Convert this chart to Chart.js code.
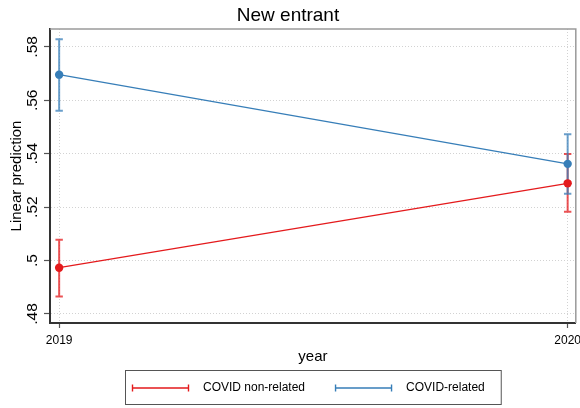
<!DOCTYPE html>
<html>
<head>
<meta charset="utf-8">
<title>New entrant</title>
<script src="https://cdn.jsdelivr.net/npm/chart.js@4.4.1/dist/chart.umd.min.js"></script>
<style>
	body { margin: 0; background: #fff; }
	canvas { display: block; }
</style>
</head>
<body>
<canvas id="margins-chart" width="580" height="408"></canvas>
<script>

var years = [2019, 2020];
var yTicks = [0.48, 0.50, 0.52, 0.54, 0.56, 0.58];

var nonRelated   = [0.4973, 0.5289];
var nonRelatedLo = [0.4865, 0.5183];
var nonRelatedHi = [0.5078, 0.5399];

var related   = [0.5696, 0.5362];
var relatedLo = [0.5561, 0.5250];
var relatedHi = [0.5829, 0.5473];

var FONT = "'Liberation Sans', Arial, sans-serif";

function points(vals){
	return years.map(function(y, i){ return {x: y, y: vals[i]}; });
}

// confidence interval caps, drawn under the lines
var errorBars = {
	id: 'errorBars',
	beforeDatasetsDraw: function(chart){
		var ctx = chart.ctx, xs = chart.scales.x, ys = chart.scales.y;
		chart.data.datasets.forEach(function(ds){
			ctx.save();
			ctx.strokeStyle = ds.barColor;
			ctx.lineWidth = 2;
			years.forEach(function(yr, i){
				var px = xs.getPixelForValue(yr);
				var top = ys.getPixelForValue(ds.hi[i]);
				var bot = ys.getPixelForValue(ds.lo[i]);
				ctx.beginPath();
				ctx.moveTo(px, top); ctx.lineTo(px, bot);
				ctx.moveTo(px - 3.7, top); ctx.lineTo(px + 3.7, top);
				ctx.moveTo(px - 3.7, bot); ctx.lineTo(px + 3.7, bot);
				ctx.stroke();
			});
			ctx.restore();
		});
	}
};

// top/right frame of the plot region and the boxed legend
var frameAndLegend = {
	id: 'frameAndLegend',
	afterDraw: function(chart){
		var ctx = chart.ctx, a = chart.chartArea;
		ctx.save();
		ctx.strokeStyle = '#9a9a9a';
		ctx.lineWidth = 1.5;
		ctx.beginPath();
		ctx.moveTo(a.left, a.top); ctx.lineTo(a.right, a.top); ctx.lineTo(a.right, a.bottom);
		ctx.stroke();

		ctx.font = '12px ' + FONT;
		var sym = 57, gap = 14, between = 30, padL = 7, padR = 16;
		var widths = chart.data.datasets.map(function(ds){ return ctx.measureText(ds.label).width; });
		var total = padL + padR + between * (widths.length - 1);
		widths.forEach(function(w){ total += sym + gap + w; });
		var left = Math.round((a.left + a.right) / 2 - total / 2);
		var top = 370, h = 34, cy = 388;

		ctx.strokeStyle = '#555';
		ctx.lineWidth = 1;
		ctx.strokeRect(left + 0.5, top + 0.5, total, h);

		var x = left + padL;
		chart.data.datasets.forEach(function(ds, i){
			ctx.strokeStyle = ds.borderColor;
			ctx.lineWidth = 1.4;
			ctx.beginPath();
			ctx.moveTo(x, cy); ctx.lineTo(x + sym, cy);
			ctx.moveTo(x + 0.5, cy - 3.5); ctx.lineTo(x + 0.5, cy + 3.5);
			ctx.moveTo(x + sym - 0.5, cy - 3.5); ctx.lineTo(x + sym - 0.5, cy + 3.5);
			ctx.stroke();
			ctx.fillStyle = '#000';
			ctx.textBaseline = 'middle';
			ctx.textAlign = 'left';
			ctx.fillText(ds.label, x + sym + gap, cy);
			x += sym + gap + widths[i] + between;
		});
		ctx.restore();
	}
};

new Chart(document.getElementById('margins-chart'), {
	type: 'line',
	data: {
		datasets: [
			{
				label: 'COVID non-related',
				data: points(nonRelated),
				lo: nonRelatedLo,
				hi: nonRelatedHi,
				borderColor: '#e41a1c',
				backgroundColor: '#e41a1c',
				barColor: 'rgba(228,26,28,0.75)',
				borderWidth: 1.3,
				pointRadius: 4.2,
				pointBorderWidth: 0
			},
			{
				label: 'COVID-related',
				data: points(related),
				lo: relatedLo,
				hi: relatedHi,
				borderColor: '#377eb8',
				backgroundColor: '#377eb8',
				barColor: 'rgba(55,126,184,0.75)',
				borderWidth: 1.3,
				pointRadius: 4.2,
				pointBorderWidth: 0
			}
		]
	},
	options: {
		responsive: false,
		animation: false,
		layout: { padding: { left: 0, right: 4, top: 0, bottom: 41 } },
		plugins: {
			legend: { display: false },
			tooltip: { enabled: false },
			title: {
				display: true,
				text: 'New entrant',
				color: '#000',
				font: { family: FONT, size: 19, weight: 'normal', lineHeight: 1.2 },
				padding: { top: 4, bottom: 2.2 }
			}
		},
		scales: {
			x: {
				type: 'linear',
				min: 2018.982,
				max: 2020.016,
				afterBuildTicks: function(scale){
					scale.ticks = years.map(function(v){ return {value: v}; });
				},
				afterFit: function(scale){
					scale.height = 44;
					scale.paddingLeft = 0;
					scale.paddingRight = 0;
				},
				ticks: {
					color: '#000',
					padding: 5,
					maxRotation: 0,
					font: { family: FONT, size: 12 },
					callback: function(v){ return String(v); }
				},
				grid: {
					color: '#d2d2d2',
					lineWidth: 1,
					tickLength: 5,
					tickColor: '#555',
					tickWidth: 1.2,
					tickBorderDash: []
				},
				border: { display: true, color: '#333', width: 2, dash: [1, 2] },
				title: {
					display: true,
					text: 'year',
					color: '#000',
					font: { family: FONT, size: 15, lineHeight: 1.2 },
					padding: { top: 0, bottom: 1 }
				}
			},
			y: {
				min: 0.4766,
				max: 0.5867,
				afterBuildTicks: function(scale){
					scale.ticks = yTicks.map(function(v){ return {value: v}; });
				},
				afterFit: function(scale){
					scale.width = 50;
					scale.paddingTop = 0;
					scale.paddingBottom = 0;
				},
				ticks: {
					color: '#000',
					padding: 1,
					minRotation: 90,
					maxRotation: 90,
					crossAlign: 'center',
					font: { family: FONT, size: 15.5 },
					callback: function(v){ return String(v).replace(/^0/, ''); }
				},
				grid: {
					color: '#d2d2d2',
					lineWidth: 1,
					tickLength: 6,
					tickColor: '#555',
					tickWidth: 1.2,
					tickBorderDash: []
				},
				border: { display: true, color: '#333', width: 2, dash: [1, 2] },
				title: {
					display: true,
					text: 'Linear prediction',
					color: '#000',
					font: { family: FONT, size: 15, lineHeight: 1.2 },
					padding: { top: 8, bottom: 0 }
				}
			}
		}
	},
	plugins: [errorBars, frameAndLegend]
});

</script>
</body>
</html>
